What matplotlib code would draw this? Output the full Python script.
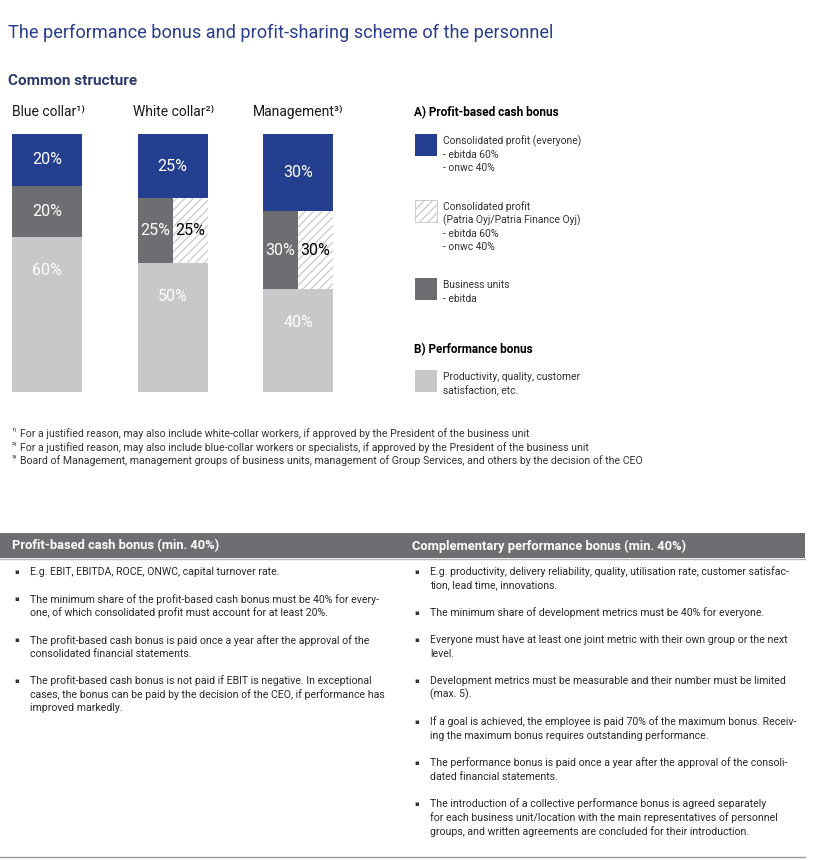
import matplotlib
matplotlib.use('Agg')
import matplotlib.pyplot as plt
from matplotlib.patches import Rectangle

plt.rcParams['font.family'] = ['Liberation Sans Narrow', 'Roboto', 'DejaVu Sans']
plt.rcParams['hatch.linewidth'] = 0.8

# data
categories = ['Blue collar¹⁾', 'White collar²⁾', 'Management³⁾']
performance_bonus = [60, 50, 40]
business_units = [20, 25, 30]
patria_profit = [0, 25, 30]
consolidated_profit = [20, 25, 30]

legend_a = [
    ('blue', 'Consolidated profit (everyone)\n- ebitda 60%\n- onwc 40%'),
    ('hatch', 'Consolidated profit\n(Patria Oyj/Patria Finance Oyj)\n- ebitda 60%\n- onwc 40%'),
    ('dark', 'Business units\n- ebitda'),
]
legend_b = [('light', 'Productivity, quality, customer\nsatisfaction, etc.')]

footnotes = [
    ('¹⁾', 'For a justified reason, may also include white-collar workers, if approved by the President of the business unit'),
    ('²⁾', 'For a justified reason, may also include blue-collar workers or specialists, if approved by the President of the business unit'),
    ('³⁾', 'Board of Management, management groups of business units, management of Group Services, and others by the decision of the CEO'),
]

left_head = 'Profit-based cash bonus (min. 40%)'
right_head = 'Complementary performance bonus (min. 40%)'
left_items = [
    ['E.g. EBIT, EBITDA, ROCE, ONWC, capital turnover rate.'],
    ['The minimum share of the profit-based cash bonus must be 40% for every-',
     'one, of which consolidated profit must account for at least 20%.'],
    ['The profit-based cash bonus is paid once a year after the approval of the',
     'consolidated financial statements.'],
    ['The profit-based cash bonus is not paid if EBIT is negative. In exceptional',
     'cases, the bonus can be paid by the decision of the CEO, if performance has',
     'improved markedly.'],
]
right_items = [
    ['E.g. productivity, delivery reliability, quality, utilisation rate, customer satisfac-',
     'tion, lead time, innovations.'],
    ['The minimum share of development metrics must be 40% for everyone.'],
    ['Everyone must have at least one joint metric with their own group or the next',
     'level.'],
    ['Development metrics must be measurable and their number must be limited',
     '(max. 5).'],
    ['If a goal is achieved, the employee is paid 70% of the maximum bonus. Receiv-',
     'ing the maximum bonus requires outstanding performance.'],
    ['The performance bonus is paid once a year after the approval of the consoli-',
     'dated financial statements.'],
    ['The introduction of a collective performance bonus is agreed separately',
     'for each business unit/location with the main representatives of personnel',
     'groups, and written agreements are concluded for their introduction.'],
]

colors = {'blue': '#243f8f', 'dark': '#6d6e71', 'light': '#c7c8ca', 'hatch': '#c4c4c4'}
W, H = 823, 860

fig = plt.figure(figsize=(W / 100, H / 100), dpi=100)
cv = fig.add_axes([0, 0, 1, 1])
cv.set_xlim(0, W)
cv.set_ylim(H, 0)
cv.axis('off')

# titles
cv.text(8, 33, 'The performance bonus and profit-sharing scheme of the personnel',
        fontsize=13.1, color='#2a3d8f', va='center')
cv.text(8, 81, 'Common structure', fontsize=11, fontweight='bold', color='#2d3a6e', va='center')

# bars
bx = fig.add_axes([12 / W, (H - 392) / H, 321 / W, 258 / H])
bw = 70 / 125.5
bx.set_xlim(-bw / 2, 2 + bw / 2)
bx.set_ylim(0, 100)
bx.axis('off')
lab_x = [12, 133, 253]
for i, cat in enumerate(categories):
    cv.text(lab_x[i], 112, cat, fontsize=10, color='#1a1a1a', va='center')
    p, b, h, c = performance_bonus[i], business_units[i], patria_profit[i], consolidated_profit[i]
    bx.bar(i, p, bw, color=colors['light'], lw=0)
    bx.annotate(f'{p}%', (i, p), xytext=(0, -24), textcoords='offset points',
                ha='center', va='center', color='white', fontsize=11.5)
    if h:
        bx.bar(i - bw / 4, b, bw / 2, bottom=p, color=colors['dark'], lw=0)
        bx.bar(i + bw / 4, h, bw / 2, bottom=p, color='white', hatch='////',
               edgecolor=colors['hatch'], lw=0)
        bx.text(i - bw / 4, p + b / 2, f'{b}%', ha='center', va='center', color='white', fontsize=11.5)
        bx.text(i + bw / 4, p + h / 2, f'{h}%', ha='center', va='center', color='black', fontsize=11.5)
    else:
        bx.bar(i, b, bw, bottom=p, color=colors['dark'], lw=0)
        bx.text(i, p + b / 2, f'{b}%', ha='center', va='center', color='white', fontsize=11.5)
    bx.bar(i, c, bw, bottom=p + b, color=colors['blue'], lw=0)
    bx.text(i, p + b + c / 2, f'{c}%', ha='center', va='center', color='white', fontsize=11.5)

# legend
cv.text(414, 113, 'A) Profit-based cash bonus', fontsize=8.5, fontweight='bold', va='center')
cv.text(414, 350, 'B) Performance bonus', fontsize=8.5, fontweight='bold', va='center')
for (key, txt), top in zip(legend_a + legend_b, [134, 200, 278, 370]):
    if key == 'hatch':
        cv.add_patch(Rectangle((415, top), 22, 22, facecolor='white', hatch='////',
                               edgecolor=colors['hatch'], lw=0.6))
    else:
        cv.add_patch(Rectangle((415, top), 22, 22, facecolor=colors[key], lw=0))
    for j, line in enumerate(txt.split('\n')):
        cv.text(443, top + 7 + j * 13.5, line, fontsize=7.4, color='#333333', va='center')

# footnotes
for j, (mark, txt) in enumerate(footnotes):
    cv.text(12, 432 + j * 13.5, mark, fontsize=6, color='#333333', va='center')
    cv.text(20, 434 + j * 13.5, txt, fontsize=7.55, color='#333333', va='center')

# table
cv.add_patch(Rectangle((0, 533), 805, 25, facecolor=colors['dark'], lw=0))
cv.plot([0, 805], [559, 559], color='#b5b5b5', lw=1)
cv.plot([0, 805], [857, 857], color='#9a9a9a', lw=1)
cv.text(12, 546, left_head, fontsize=9.3, fontweight='bold', color='white', va='center')
cv.text(412, 546, right_head, fontsize=9.3, fontweight='bold', color='white', va='center')
for items, bx0 in [(left_items, 14), (right_items, 414)]:
    y = 572
    for lines in items:
        cv.text(bx0, y, '▪', fontsize=5, color='#333333', va='center', family='DejaVu Sans')
        for line in lines:
            cv.text(bx0 + 16, y, line, fontsize=7.6, color='#2a2a2a', va='center')
            y += 13.7
        y += 13.5

fig.savefig('out.png', dpi=100)
